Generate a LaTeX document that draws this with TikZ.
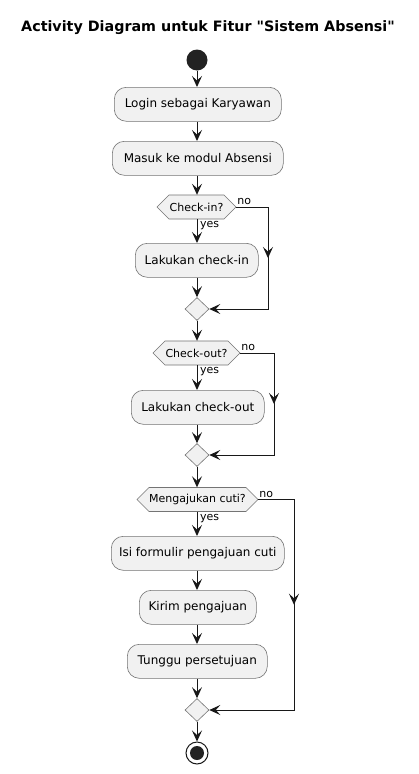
\documentclass[tikz,border=0pt]{standalone}
\usepackage{fontspec}
\setmainfont{DejaVu Sans}
\newfontfamily\titlefont{DejaVu Sans}
\usetikzlibrary{arrows.meta,shapes.geometric,calc}
\definecolor{boxfill}{HTML}{F1F1F1}
\definecolor{boxline}{HTML}{181818}
\definecolor{dotc}{HTML}{222222}
\tikzset{
  actbox/.style={draw=boxline!60, line width=0.6pt, fill=boxfill, rounded corners=12pt, minimum height=34pt, inner sep=0pt, font=\fontsize{12}{14}\selectfont, anchor=north west},
  hexlabel/.style={inner sep=0pt, font=\fontsize{11}{13}\selectfont},
  hexshape/.style={draw=boxline!60, line width=0.6pt, fill=boxfill},
  merge/.style={diamond, draw=boxline!60, line width=0.6pt, fill=boxfill, minimum width=24pt, minimum height=23pt, inner sep=0pt},
  tip/.style={-{Stealth[length=11pt,width=10pt,inset=4.5pt]}},
  flow/.style={draw=boxline, line width=1pt, tip},
  plain/.style={draw=boxline, line width=1pt, line join=miter},
  lbl/.style={font=\fontsize{11}{13}\selectfont, inner sep=0pt},
}
\newcommand{\hexdraw}[5]{% name, cx, cy, halfwidth, text
  \draw[hexshape] (#2-#4,#3) -- (#2-#4+12,#3-12) -- (#2+#4-12,#3-12) -- (#2+#4,#3) -- (#2+#4-12,#3+12) -- (#2-#4+12,#3+12) -- cycle;
  \node[hexlabel, minimum width=2*#4 pt, minimum height=24pt] (#1) at (#2,#3) {#5};
}
\begin{document}
\begin{tikzpicture}[x=1pt,y=-1pt]
\useasboundingbox[fill=white] (0,0) rectangle (418,774);
\node[font=\titlefont\bfseries\fontsize{14.3}{16}\selectfont, inner sep=0pt] (title) at (208,28) {Activity Diagram untuk Fitur "Sistem Absensi"};

\node[circle, fill=dotc, minimum size=21pt, inner sep=0pt] (start) at (197,60) {};

\node[actbox, minimum width=167pt] (login) at (114,87) {Login sebagai Karyawan};
\node[actbox, minimum width=171pt] (masuk) at (112,141) {Masuk ke modul Absensi};

\hexdraw{ci}{196.5}{207}{39.5}{Check-in?}
\node[actbox, minimum width=123pt] (lci) at (135,243) {Lakukan check-in};
\node[merge] (m1) at (197,309) {};

\hexdraw{co}{196.5}{353}{43.5}{Check-out?}
\node[actbox, minimum width=133pt] (lco) at (131,390) {Lakukan check-out};
\node[merge] (m2) at (197,455) {};

\hexdraw{cu}{197.5}{499.5}{60.5}{Mengajukan cuti?}
\node[actbox, minimum width=173pt] (isi) at (111,536) {Isi formulir pengajuan cuti};
\node[actbox, minimum width=117pt] (kirim) at (139,590) {Kirim pengajuan};
\node[actbox, minimum width=140pt] (tunggu) at (127,644) {Tunggu persetujuan};
\node[merge] (m3) at (197,710) {};

\node[circle, draw=boxline, line width=1pt, fill=white, minimum size=22pt, inner sep=0pt] (end) at (197,753) {};
\node[circle, fill=dotc, minimum size=14pt, inner sep=0pt] (endin) at (end.center) {};

% branch corner coordinates
\coordinate (r1a) at (268,207);
\coordinate (r1b) at (268,309);
\coordinate (r2a) at (274,353);
\coordinate (r2b) at (274,455);
\coordinate (r3a) at (294,499.5);
\coordinate (r3b) at (294,710);

% main flow
\draw[flow] (start) -- (start |- login.north);
\draw[flow] (start |- login.south) -- (start |- masuk.north);
\draw[flow] (start |- masuk.south) -- (ci.north -| start);
\draw[flow] (ci.south -| start) -- (lci.north -| start);
\draw[flow] (lci.south -| start) -- (m1.north);
\draw[flow] (m1.south) -- (co.north -| start);
\draw[flow] (co.south -| start) -- (lco.north -| start);
\draw[flow] (lco.south -| start) -- (m2.north);
\draw[flow] (m2.south) -- (cu.north -| start);
\draw[flow] (cu.south -| start) -- (isi.north -| start);
\draw[flow] (isi.south -| start) -- (kirim.north -| start);
\draw[flow] (kirim.south -| start) -- (tunggu.north -| start);
\draw[flow] (tunggu.south -| start) -- (m3.north);
\draw[flow] (m3.south) -- (end.north);

% no branches
\draw[plain] (ci.east) -- (r1a) -- (r1b) -- ++(-1,0);
\draw[flow] (r1a) -- ($(r1a)!0.5!(r1b)$);
\draw[flow] (r1b) -- (m1.east);
\draw[plain] (co.east) -- (r2a) -- (r2b) -- ++(-1,0);
\draw[flow] (r2a) -- ($(r2a)!0.5!(r2b)$);
\draw[flow] (r2b) -- (m2.east);
\draw[plain] (cu.east) -- (r3a) -- (r3b) -- ++(-1,0);
\draw[flow] (r3a) -- ($(r3a)!0.5!(r3b)$);
\draw[flow] (r3b) -- (m3.east);

% labels
\node[lbl, anchor=south west] (no1) at ($(ci.east)+(1,-2)$) {no};
\node[lbl, anchor=north west] (yes1) at ($(ci.south -| start)+(3,2)$) {yes};
\node[lbl, anchor=south west] (no2) at ($(co.east)+(1,-2)$) {no};
\node[lbl, anchor=north west] (yes2) at ($(co.south -| start)+(3,2)$) {yes};
\node[lbl, anchor=south west] (no3) at ($(cu.east)+(1,-2)$) {no};
\node[lbl, anchor=north west] (yes3) at ($(cu.south -| start)+(3,2)$) {yes};
\end{tikzpicture}
\end{document}
